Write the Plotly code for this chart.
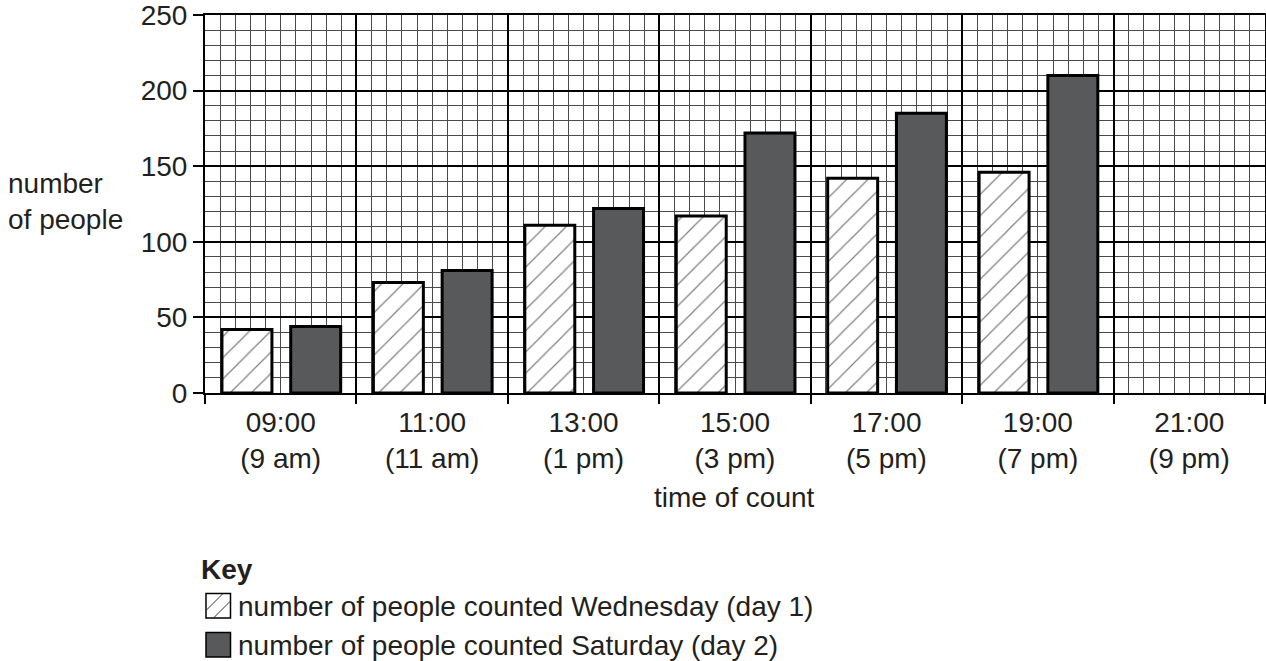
import plotly.graph_objects as go

# ---- data ----
times = ["09:00", "11:00", "13:00", "15:00", "17:00", "19:00", "21:00"]
clock = ["(9 am)", "(11 am)", "(1 pm)", "(3 pm)", "(5 pm)", "(7 pm)", "(9 pm)"]
wednesday = [42, 73, 111, 117, 142, 146, None]
saturday = [44, 81, 122, 172, 185, 210, None]
y_ticks = [0, 50, 100, 150, 200, 250]
wed_name = "number of people counted Wednesday (day 1)"
sat_name = "number of people counted Saturday (day 2)"

FONT = "Liberation Sans, Arial, sans-serif"
TXT = "#231f20"
FS = 28
DARK = "#58595b"
MINOR = "#4a4a4a"

W, H = 1266, 661
ML, MR, MT, MB = 205, 1, 15, 268
PW, PH = W - ML - MR, H - MT - MB


def px2x(px):
    return (px - ML) / PW


def px2y(py):
    return (H - MB - py) / PH


xpos = list(range(len(times)))
labels = [f"{t}<br>{c}" for t, c in zip(times, clock)]

fig = go.Figure()
fig.add_trace(go.Bar(
    x=xpos, y=wednesday, name=wed_name, width=0.33, offset=-0.388,
    marker=dict(color="white", line=dict(color="black", width=3),
                pattern=dict(shape="/", fgcolor="#000000", bgcolor="white",
                             size=15, solidity=0.08)),
    showlegend=False, xaxis="x", yaxis="y",
))
fig.add_trace(go.Bar(
    x=xpos, y=saturday, name=sat_name, width=0.33, offset=0.066,
    marker=dict(color=DARK, line=dict(color="black", width=3)),
    showlegend=False, xaxis="x2", yaxis="y",
))

fig.update_layout(
    width=W, height=H,
    margin=dict(l=ML, r=MR, t=MT, b=MB, autoexpand=False),
    paper_bgcolor="white", plot_bgcolor="white",
    barmode="overlay",
    font=dict(family=FONT, size=FS, color=TXT),
    xaxis=dict(
        range=[-0.5, len(times) - 0.5], automargin=False,
        tickmode="array", tickvals=xpos, ticktext=labels,
        ticks="", showgrid=False, zeroline=False,
        showline=True, linecolor="black", linewidth=2, mirror=True,
        tickfont=dict(family=FONT, size=FS, color=TXT),
        ticklabelstandoff=3,
    ),
    xaxis2=dict(
        overlaying="x", anchor="y", side="bottom", automargin=False,
        range=[-0.5, len(times) - 0.5],
        tickmode="linear", tick0=-0.5, dtick=1,
        ticks="outside", ticklen=10, tickwidth=2, tickcolor="black",
        showticklabels=False, zeroline=False, showline=False,
        showgrid=True, gridcolor="black", gridwidth=2,
        minor=dict(tick0=-0.5, dtick=0.1, showgrid=True,
                   gridcolor=MINOR, gridwidth=1, ticks=""),
    ),
    yaxis=dict(
        range=[0, 250], automargin=False,
        tickmode="array", tickvals=y_ticks,
        ticks="outside", ticklen=10, tickwidth=2, tickcolor="black",
        showgrid=True, gridcolor="black", gridwidth=2,
        minor=dict(dtick=10, showgrid=True, gridcolor=MINOR,
                   gridwidth=1, ticks=""),
        zeroline=False,
        showline=True, linecolor="black", linewidth=2, mirror=True,
        tickfont=dict(family=FONT, size=FS, color=TXT),
        ticklabeloverflow="allow",
    ),
)

annotations = [
    dict(text="number<br>of people", x=px2x(6), y=px2y(201), xref="paper",
         yref="paper", xanchor="left", yanchor="middle", align="left",
         showarrow=False, font=dict(family=FONT, size=FS, color=TXT)),
    dict(text="time of count", x=px2x(734), y=px2y(498), xref="paper",
         yref="paper", xanchor="center", yanchor="middle",
         showarrow=False, font=dict(family=FONT, size=FS, color=TXT)),
    dict(text="<b>Key</b>", x=px2x(199), y=px2y(569), xref="paper",
         yref="paper", xanchor="left", yanchor="middle",
         showarrow=False, font=dict(family=FONT, size=FS, color=TXT)),
    dict(text=wed_name, x=px2x(236), y=px2y(606), xref="paper",
         yref="paper", xanchor="left", yanchor="middle",
         showarrow=False, font=dict(family=FONT, size=FS, color=TXT)),
    dict(text=sat_name, x=px2x(236), y=px2y(645), xref="paper",
         yref="paper", xanchor="left", yanchor="middle",
         showarrow=False, font=dict(family=FONT, size=FS, color=TXT)),
]
fig.update_layout(annotations=annotations)

shapes = [
    dict(type="rect", xref="paper", yref="paper",
         x0=px2x(206), x1=px2x(230.5), y0=px2y(618), y1=px2y(593.5),
         line=dict(color="black", width=1.5), fillcolor="white"),
    dict(type="line", xref="paper", yref="paper",
         x0=px2x(206), y0=px2y(610.5), x1=px2x(223), y1=px2y(593.5),
         line=dict(color="#333333", width=1)),
    dict(type="line", xref="paper", yref="paper",
         x0=px2x(213.5), y0=px2y(618), x1=px2x(230.5), y1=px2y(601),
         line=dict(color="#333333", width=1)),
    dict(type="rect", xref="paper", yref="paper",
         x0=px2x(206), x1=px2x(230.5), y0=px2y(657), y1=px2y(632.5),
         line=dict(color="black", width=1.5), fillcolor=DARK),
]
fig.update_layout(shapes=shapes)

fig.write_html(
    "out.html",
    config={"displayModeBar": False},
    post_script="document.body.style.margin='0';document.body.style.overflow='hidden';",
)
